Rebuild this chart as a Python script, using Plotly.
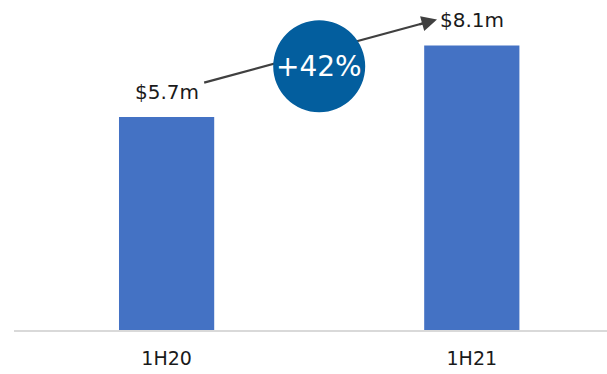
import plotly.graph_objects as go

categories = ["1H20", "1H21"]
values = [5.7, 8.1]
value_labels = ["$5.7m", "$8.1m"]
growth_label = "+42%"

AXIS_MIN = -1.45
FONT = "DejaVu Sans"
BAR_COLOR = "#4472C4"
CIRCLE_COLOR = "#035E9E"
ARROW_COLOR = "#404040"

xpos = list(range(len(categories)))

fig = go.Figure()
fig.add_trace(go.Bar(
    x=xpos,
    y=[v - AXIS_MIN for v in values],
    base=AXIS_MIN,
    width=0.312,
    marker=dict(color=BAR_COLOR, line=dict(width=0)),
    hoverinfo="skip",
))

# value labels above bars
for xi, v, t in zip(xpos, values, value_labels):
    fig.add_annotation(x=xi, y=v, text=t, showarrow=False, yanchor="bottom",
                       yshift=11, font=dict(family=FONT, size=20, color="#1a1a1a"))

# growth arrow (between the two labels): shaft as a line, head as annotation
tail = (xpos[0] + 0.123, values[0] + 1.15)
tip = (xpos[1] - 0.114, values[1] + 0.87)
fig.add_trace(go.Scatter(
    x=[tail[0], tip[0] - 0.03], y=[tail[1], tip[1] - 0.085],
    mode="lines", line=dict(color=ARROW_COLOR, width=2.2),
    hoverinfo="skip",
))
fig.add_annotation(
    x=tip[0], y=tip[1], ax=-19, ay=5.3,
    showarrow=True, arrowhead=2, arrowsize=1.4, arrowwidth=2.2,
    arrowcolor=ARROW_COLOR, text="",
)

# growth circle (drawn above the arrow shaft)
cy = (values[0] + values[1]) / 2 + 0.5
fig.add_shape(type="circle", xref="x", yref="y",
              xsizemode="pixel", ysizemode="pixel",
              xanchor=0.5, yanchor=cy,
              x0=-46, x1=46, y0=-46, y1=46,
              fillcolor=CIRCLE_COLOR, line=dict(width=0), layer="above")
fig.add_annotation(x=0.5, y=cy, text=growth_label,
                   showarrow=False, font=dict(family=FONT, size=28, color="white"))

fig.update_layout(
    width=607, height=374,
    margin=dict(l=14, r=0, t=0, b=44),
    paper_bgcolor="white", plot_bgcolor="white",
    showlegend=False,
    font=dict(family=FONT, size=20, color="#1a1a1a"),
    xaxis=dict(range=[-0.5, 1.443], showgrid=False, zeroline=False,
               tickvals=xpos, ticktext=categories,
               showline=True, linecolor="#d9d9d9", linewidth=2,
               ticks="", ticklabelstandoff=10,
               tickfont=dict(family=FONT, size=19, color="#1a1a1a")),
    yaxis=dict(range=[AXIS_MIN, AXIS_MIN + 330 / 29.8], visible=False),
)

fig.write_html("out.html")
